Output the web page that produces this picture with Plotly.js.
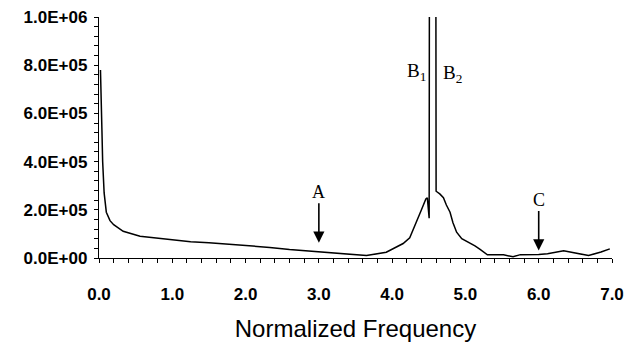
<!DOCTYPE html>
<html>
<head>
<meta charset="utf-8">
<script src="https://cdn.plot.ly/plotly-3.0.1.min.js"></script>
<style>html,body{margin:0;padding:0;background:#fff;}#chart{width:632px;height:347px;}</style>
</head>
<body>
<div id="chart"></div>
<script>
// Normalized frequency (x) and spectral amplitude (y)
const freq = [0.02, 0.03, 0.04, 0.05, 0.07, 0.10, 0.15, 0.20, 0.33, 0.56, 0.80, 1.00, 1.25, 1.50, 2.00, 2.33, 2.60, 3.00, 3.30, 3.65, 3.92, 4.15, 4.24, 4.33, 4.40, 4.46, 4.48, 4.505, 4.515, 4.59, 4.60, 4.65, 4.70, 4.74, 4.79, 4.83, 4.88, 4.95, 5.05, 5.13, 5.20, 5.30, 5.40, 5.52, 5.65, 5.75, 6.00, 6.12, 6.34, 6.50, 6.68, 6.85, 6.97];
const amplitude = [780000, 550000, 530000, 400000, 270000, 190000, 155000, 138000, 111000, 90000, 81000, 74000, 67000, 63000, 53000, 44000, 35000, 25000, 19000, 10000, 24000, 60000, 84000, 146000, 200000, 245000, 250000, 165000, 3000000, 3000000, 277000, 266000, 250000, 220000, 190000, 146000, 107000, 80000, 65000, 50000, 36000, 13000, 13000, 13000, 5000, 14000, 15000, 18000, 30000, 20000, 10000, 25000, 38000];

const yTickVals = [0, 200000, 400000, 600000, 800000, 1000000];
const yTickText = ['0.0E+00', '2.0E+05', '4.0E+05', '6.0E+05', '8.0E+05', '1.0E+06'];
const xTickVals = [0, 1, 2, 3, 4, 5, 6, 7];
const xTickText = ['0.0', '1.0', '2.0', '3.0', '4.0', '5.0', '6.0', '7.0'];

// Marker labels: [x, y at arrow tip, text]
const arrowLabels = [[3.0, 63000, 'A'], [6.0, 31000, 'C']];
const peakLabels = [[4.33, 770000, 'B<sub>1</sub>'], [4.82, 765000, 'B<sub>2</sub>']];

const tickFont = {family: 'Liberation Sans, Arial, sans-serif', size: 17, color: '#000', weight: 'bold'};

const annotations = [];
arrowLabels.forEach(a => annotations.push({
  x: a[0], y: a[1], xref: 'x', yref: 'y', text: a[2],
  showarrow: true, ax: 0, ay: -51, arrowhead: 2, arrowsize: 1.4, arrowwidth: 1.6,
  arrowcolor: '#000', standoff: 0,
  font: {family: 'Liberation Serif, Times New Roman, serif', size: 18, color: '#000'}
}));
peakLabels.forEach(p => annotations.push({
  x: p[0], y: p[1], xref: 'x', yref: 'y', text: p[2], showarrow: false,
  font: {family: 'Liberation Serif, Times New Roman, serif', size: 19, color: '#000'}
}));

const trace = {
  x: freq, y: amplitude, type: 'scatter', mode: 'lines',
  line: {color: '#000', width: 1.5}, hoverinfo: 'skip'
};

const layout = {
  width: 632, height: 347,
  margin: {l: 99, r: 20, t: 17, b: 89},
  paper_bgcolor: '#fff', plot_bgcolor: '#fff',
  showlegend: false,
  xaxis: {
    range: [0, 7], tickmode: 'array', tickvals: xTickVals, ticktext: xTickText,
    ticks: 'outside', ticklen: 4, tickwidth: 1, tickcolor: '#000',
    ticklabelstandoff: 16,
    minor: {tickmode: 'linear', tick0: 0, dtick: 0.2, ticks: 'outside', ticklen: 4, tickwidth: 1, tickcolor: '#000'},
    showline: true, linecolor: '#000', linewidth: 1.2, showgrid: false, zeroline: false,
    tickfont: tickFont,
    title: {text: 'Normalized Frequency', font: {family: 'Liberation Sans, Arial, sans-serif', size: 24, color: '#000'}, standoff: 17}
  },
  yaxis: {
    range: [0, 1000000], tickmode: 'array', tickvals: yTickVals, ticktext: yTickText,
    ticks: 'outside', ticklen: 4, tickwidth: 1, tickcolor: '#000',
    ticklabelstandoff: 3,
    minor: {tickmode: 'linear', tick0: 0, dtick: 40000, ticks: 'outside', ticklen: 4, tickwidth: 1, tickcolor: '#000'},
    showline: true, linecolor: '#000', linewidth: 1.2, showgrid: false, zeroline: false,
    tickfont: tickFont
  },
  annotations: annotations
};

Plotly.newPlot('chart', [trace], layout, {staticPlot: true, displayModeBar: false});
</script>
</body>
</html>
